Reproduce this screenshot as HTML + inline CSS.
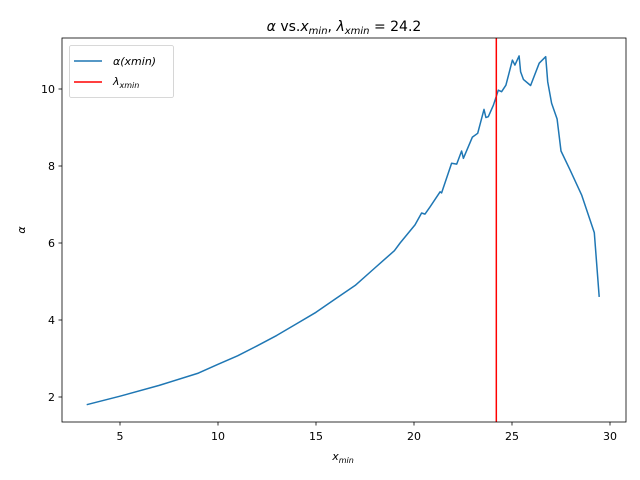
<!DOCTYPE html>
<html><head><meta charset="utf-8"><style>
html,body{margin:0;padding:0;background:#fff;}
svg{display:block;font-family:"DejaVu Sans","Liberation Sans",sans-serif;}
</style></head><body>
<svg id="chart" width="640" height="480"></svg>
<script>
const xVals=[3.3,5,7,9,10,11,12,13,14,15,16,17,18,19,19.29,20.05,20.39,20.56,20.82,21.33,21.41,21.92,22.18,22.43,22.52,22.98,23.25,23.57,23.67,23.79,24.05,24.30,24.47,24.69,25.02,25.15,25.36,25.44,25.58,25.95,26.39,26.72,26.82,27.02,27.30,27.50,27.96,28.55,29.20,29.45];
const alphaVals=[1.8,2.02,2.3,2.62,2.85,3.07,3.33,3.6,3.9,4.2,4.55,4.9,5.35,5.8,6.0,6.47,6.78,6.75,6.94,7.33,7.3,8.07,8.05,8.39,8.2,8.75,8.85,9.47,9.26,9.28,9.58,9.97,9.93,10.1,10.75,10.62,10.86,10.45,10.25,10.09,10.67,10.84,10.19,9.63,9.22,8.39,7.9,7.25,6.27,4.6];
const lambdaXmin=24.2;
const xTicks=[5,10,15,20,25,30];
const yTicks=[2,4,6,8,10];
const NS="http://www.w3.org/2000/svg";
const svg=document.getElementById('chart');
const L=62,R=626,T=38,B=422;
const sx=v=>22+v*19.6;
const sy=v=>474-v*38.5;
function mk(tag,attrs,parent){const e=document.createElementNS(NS,tag);for(const k in attrs)e.setAttribute(k,attrs[k]);(parent||svg).appendChild(e);return e;}
const pts=xVals.map((x,i)=>sx(x).toFixed(1)+','+sy(alphaVals[i]).toFixed(1)).join(' ');
const line=mk('polyline',{points:pts,fill:'none',stroke:'#1f77b4','stroke-width':1.5,'stroke-linejoin':'round'});


const vl=mk('line',{x1:sx(lambdaXmin),x2:sx(lambdaXmin),y1:T,y2:B,stroke:'#ff0000','stroke-width':1.5});


const frame=mk('rect',{x:L,y:T,width:R-L,height:B-T,fill:'none',stroke:'#000','stroke-width':0.8});


xTicks.forEach(t=>{const x=sx(t);mk('line',{x1:x,x2:x,y1:B,y2:B+3.5,stroke:'#000','stroke-width':0.8});
 const tx=mk('text',{x:x,y:B+18,'text-anchor':'middle','font-size':11,fill:'#000'});tx.textContent=t;
 
 });
yTicks.forEach(t=>{const y=sy(t);mk('line',{x1:L-3.5,x2:L,y1:y,y2:y,stroke:'#000','stroke-width':0.8});
 const tx=mk('text',{x:L-7,y:y+4,'text-anchor':'end','font-size':11,fill:'#000'});tx.textContent=t;
 
 });
</script>
<svg width="640" height="480" style="position:absolute;left:0;top:0">
<text x="344" y="31" text-anchor="middle" font-size="14" font-family="DejaVu Sans,Liberation Sans,sans-serif"><tspan font-style="italic">α</tspan> vs.<tspan font-style="italic">x</tspan><tspan font-style="italic" font-size="10" dy="3">min</tspan><tspan dy="-3">,  </tspan><tspan font-style="italic">λ</tspan><tspan font-style="italic" font-size="10" dy="3">xmin</tspan><tspan dy="-3"> = 24.2</tspan></text>
<text x="343" y="460" text-anchor="middle" font-size="11" font-family="DejaVu Sans,Liberation Sans,sans-serif"><tspan font-style="italic">x</tspan><tspan font-style="italic" font-size="8" dy="3">min</tspan></text>
<text x="25" y="230" text-anchor="middle" font-size="11" font-style="italic" font-family="DejaVu Sans,Liberation Sans,sans-serif" transform="rotate(-90 25 230)">α</text>
<g>
<rect x="69.5" y="45.5" width="104" height="52" rx="2" fill="#fff" fill-opacity="0.8" stroke="#ccc" stroke-width="0.8"/>
<line x1="74" x2="102" y1="61" y2="61" stroke="#1f77b4" stroke-width="1.5"/>
<text x="113" y="65" font-size="11" font-style="italic" font-family="DejaVu Sans,Liberation Sans,sans-serif">α(xmin)</text>
<line x1="74" x2="102" y1="82" y2="82" stroke="#ff0000" stroke-width="1.5"/>
<text x="113" y="85" font-size="11" font-style="italic" font-family="DejaVu Sans,Liberation Sans,sans-serif">λ<tspan font-size="8" dy="3">xmin</tspan></text>
</g>
</svg>
</body></html>
